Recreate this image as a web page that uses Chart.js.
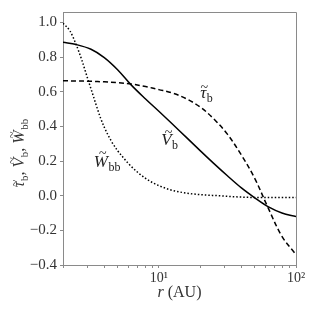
<!DOCTYPE html>
<html>
<head>
<meta charset="utf-8">
<script src="https://cdn.jsdelivr.net/npm/chart.js@4.4.1/dist/chart.umd.min.js"></script>
<style>
  html, body { margin: 0; padding: 0; background: #fff; }
  #wrap { width: 312px; height: 312px; }
</style>
</head>
<body>
<div id="wrap"><canvas id="profileChart" width="312" height="312"></canvas></div>
<script>
// radius (AU) grid used for tau_b and V_b, roughly even in log r
var rMain = [2, 2.5, 3.2, 4, 5, 6.3, 8, 10, 12.6, 15.8, 20, 25, 31.6, 40, 50, 63, 79, 100];
var tauB  = [0.663, 0.662, 0.66, 0.657, 0.652, 0.644, 0.63, 0.612, 0.592, 0.56, 0.512, 0.445, 0.355, 0.234, 0.10, -0.075, -0.235, -0.34];
var vB    = [0.885, 0.872, 0.845, 0.797, 0.727, 0.638, 0.558, 0.487, 0.412, 0.338, 0.26, 0.188, 0.115, 0.045, -0.012, -0.065, -0.10, -0.12];
// W_bb falls off quickly, so it gets its own, finer radius grid
var rW    = [2, 2.25, 2.5, 2.75, 3, 3.25, 3.5, 3.75, 4, 4.5, 5, 5.5, 6, 7, 8, 9, 10, 12, 15, 20, 27, 35, 50, 100];
var wBB   = [0.995, 0.95, 0.87, 0.78, 0.685, 0.60, 0.52, 0.45, 0.395, 0.315, 0.26, 0.22, 0.185, 0.135, 0.10, 0.075, 0.058, 0.035, 0.018, 0.006, 0.0, -0.006, -0.01, -0.01];

var xTickValues = [2, 3, 4, 5, 6, 7, 8, 9, 10, 20, 30, 40, 50, 60, 70, 80, 90, 100];
var xTickLabels = { 10: '10\u00b9', 100: '10\u00b2' };
var yTickValues = [-0.4, -0.2, 0.0, 0.2, 0.4, 0.6, 0.8, 1.0];

var SERIF = "'Liberation Serif', 'DejaVu Serif', serif";
var AXIS_GRAY = '#8a8a8a';
var TEXT = '#333';

function pts(xs, ys){
    return xs.map(function(x, i){ return { x: x, y: ys[i] }; });
}

// italic symbol with a tilde on top and a roman subscript, e.g. V~ + "b"
function mathLabel(ctx, x, y, main, sub, size, capital){
    ctx.textAlign = 'left';
    ctx.textBaseline = 'alphabetic';
    ctx.font = 'italic ' + size + 'px ' + SERIF;
    var w1 = ctx.measureText(main).width;
    ctx.fillText(main, x, y);
    // tilde accent
    ctx.save();
    ctx.textAlign = 'center';
    ctx.font = Math.round(size * 0.8) + 'px ' + SERIF;
    var rise = capital ? size * 0.5 : size * 0.32;
    ctx.fillText('~', x + w1 * 0.5 + size * (capital ? 0.12 : 0.06), y - rise);
    ctx.restore();
    ctx.font = Math.round(size * 0.7) + 'px ' + SERIF;
    var w2 = ctx.measureText(sub).width;
    ctx.fillText(sub, x + w1 + 0.5, y + size * 0.22);
    return w1 + w2 + 0.5;
}

var annotations = {
    id: 'annotations',
    afterDraw: function(chart){
        var ctx = chart.ctx, a = chart.chartArea;
        var xs = chart.scales.x, ys = chart.scales.y;
        ctx.save();
        // top and right spines
        ctx.strokeStyle = AXIS_GRAY;
        ctx.lineWidth = 1;
        ctx.beginPath();
        ctx.moveTo(a.left, a.top + 0.5);
        ctx.lineTo(a.right + 0.5, a.top + 0.5);
        ctx.lineTo(a.right + 0.5, a.bottom);
        ctx.stroke();

        ctx.fillStyle = '#222';
        mathLabel(ctx, xs.getPixelForValue(20), ys.getPixelForValue(0.565), '\u03c4', 'b', 17, false);
        mathLabel(ctx, xs.getPixelForValue(10.4), ys.getPixelForValue(0.29), 'V', 'b', 17, true);
        mathLabel(ctx, xs.getPixelForValue(3.35), ys.getPixelForValue(0.166), 'W', 'bb', 17, true);

        // axis titles
        ctx.fillStyle = TEXT;
        var cx = (a.left + a.right) / 2;
        ctx.font = 'italic 16px ' + SERIF;
        var wr = ctx.measureText('r ').width;
        ctx.font = '16px ' + SERIF;
        var wa = ctx.measureText('(AU)').width;
        var x0 = cx - (wr + wa) / 2;
        ctx.textAlign = 'left';
        ctx.font = 'italic 16px ' + SERIF;
        ctx.fillText('r', x0, 297);
        ctx.font = '16px ' + SERIF;
        ctx.fillText('(AU)', x0 + wr, 297);

        ctx.translate(24, 153);
        ctx.rotate(-Math.PI / 2);
        var parts = [['\u03c4', 'b', ', ', false], ['V', 'b', ', ', true], ['W', 'bb', '', true]];
        var total = 0;
        parts.forEach(function(p){
            ctx.font = 'italic 16px ' + SERIF; total += ctx.measureText(p[0]).width + 0.5;
            ctx.font = '11px ' + SERIF; total += ctx.measureText(p[1]).width;
            ctx.font = '16px ' + SERIF; total += ctx.measureText(p[2]).width;
        });
        var px = -total / 2;
        parts.forEach(function(p){
            px += mathLabel(ctx, px, 0, p[0], p[1], 16, p[3]);
            ctx.font = '16px ' + SERIF;
            ctx.fillText(p[2], px, 0);
            px += ctx.measureText(p[2]).width;
        });
        ctx.restore();
    }
};

var ctx = document.getElementById('profileChart').getContext('2d');
var chart = new Chart(ctx, {
    type: 'scatter',
    data: {
        datasets: [
            { label: 'tau_b', data: pts(rMain, tauB), borderColor: '#000', borderWidth: 1.5, borderDash: [5, 3], showLine: true, pointRadius: 0, tension: 0.35 },
            { label: 'V_b', data: pts(rMain, vB), borderColor: '#000', borderWidth: 1.5, showLine: true, pointRadius: 0, tension: 0.35 },
            { label: 'W_bb', data: pts(rW, wBB), borderColor: '#000', borderWidth: 1.5, borderDash: [1.5, 2], showLine: true, pointRadius: 0, cubicInterpolationMode: 'monotone' }
        ]
    },
    options: {
        responsive: false,
        animation: false,
        layout: { padding: { top: 9, right: 16, left: 0, bottom: 0 } },
        plugins: { legend: { display: false }, tooltip: { enabled: false } },
        scales: {
            x: {
                type: 'logarithmic',
                min: 2, max: 100,
                afterBuildTicks: function(s){ s.ticks = xTickValues.map(function(v){ return { value: v }; }); },
                afterFit: function(s){ s.height = 47; },
                border: { display: true, color: AXIS_GRAY, width: 1 },
                grid: { display: true, drawOnChartArea: false, drawTicks: true, tickLength: 3, color: AXIS_GRAY },
                ticks: {
                    autoSkip: false, maxRotation: 0, padding: 2,
                    color: TEXT, font: { family: SERIF, size: 14 },
                    callback: function(v){ return xTickLabels[v] || ''; }
                }
            },
            y: {
                min: -0.4, max: 1.06,
                afterBuildTicks: function(s){ s.ticks = yTickValues.map(function(v){ return { value: v }; }); },
                afterFit: function(s){ s.width = 63; },
                border: { display: true, color: AXIS_GRAY, width: 1 },
                grid: { display: true, drawOnChartArea: false, drawTicks: true, tickLength: 3, color: AXIS_GRAY },
                ticks: {
                    padding: 3, color: TEXT, font: { family: SERIF, size: 15 },
                    callback: function(v){ return (v < 0 ? '\u2212' : '') + Math.abs(v).toFixed(1); }
                }
            }
        }
    },
    plugins: [annotations]
});
</script>
</body>
</html>
